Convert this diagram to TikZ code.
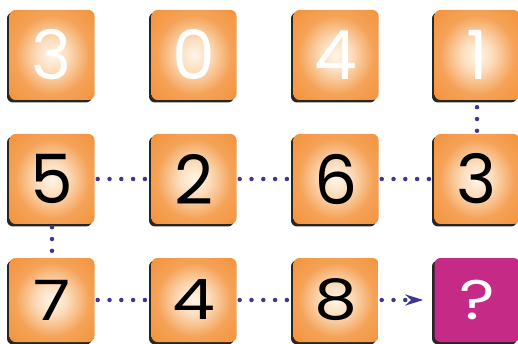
\documentclass[tikz,border=0pt]{standalone}
\usepackage{fontspec}
\newfontfamily\digitfont{Poppins}
\usetikzlibrary{arrows.meta,shadows}
\definecolor{tileorange}{RGB}{243,146,58}
\definecolor{tileglow}{RGB}{255,246,232}
\definecolor{tilepink}{RGB}{196,42,134}
\definecolor{dotblue}{RGB}{62,54,148}
\pgfdeclareradialshading{tileshade}{\pgfpoint{0bp}{0bp}}{%
	color(0bp)=(tileglow); color(9bp)=(tileglow!75!tileorange);
	color(22bp)=(tileorange!85!white); color(36bp)=(tileorange); color(50bp)=(tileorange)}
\newcommand\lowdigit[1]{\scalebox{1}[0.82]{#1}}
\begin{document}
\begin{tikzpicture}[x=1pt,y=-1pt,
	tilebox/.style={ rounded corners=6pt, minimum width=85pt, minimum height=90pt, inner sep=0pt,
		drop shadow={shadow xshift=-2.5pt, shadow yshift=-2.5pt, fill=black!85, opacity=1},
		font=\digitfont\fontsize{68}{68}\selectfont },
	tile/.style={ tilebox, shading=tileshade },
	tilelow/.style={ tile, minimum height=84pt },
	tilefaded/.style={ tile, text=white },
	tileask/.style={ tilebox, minimum height=84pt, fill=tilepink, text=white },
	link/.style={ dotblue, line width=4.5pt, line cap=round, dash pattern=on 0pt off 11.8pt, shorten <=3pt, shorten >=3pt }
]
\useasboundingbox (0,0) rectangle (518,344);
\clip (0,0) rectangle (518,344);

% top row, faded
\node at (52,55) (topa) [tilefaded] {3};
\node at (194,55) (topb) [tilefaded] {0};
\node at (336,55) (topc) [tilefaded] {4};
\node at (477,55) (topd) [tilefaded] {1};
% middle row
\node at (52,179) (five) [tile] {5};
\node at (194,179) (two) [tile] {2};
\node at (336,179) (six) [tile] {6};
\node at (477,179) (three) [tile] {3};
% bottom row
\node at (52,300) (seven) [tilelow] {\lowdigit{7}};
\node at (194,300) (four) [tilelow] {\lowdigit{4}};
\node at (336,300) (eight) [tilelow] {\lowdigit{8}};
\node at (477,300) (ask) [tileask] {\lowdigit{?}};

\draw[link] (five) -- (two);
\draw[link] (two) -- (six);
\draw[link] (six) -- (three);
\draw[link] (three) -- (topd);
\draw[link] (five) -- (seven);
\draw[link] (seven) -- (four);
\draw[link] (four) -- (eight);
\draw[link, shorten >=11pt, -{Stealth[length=18pt,width=11pt]}] (eight) -- (ask);

\end{tikzpicture}
\end{document}
